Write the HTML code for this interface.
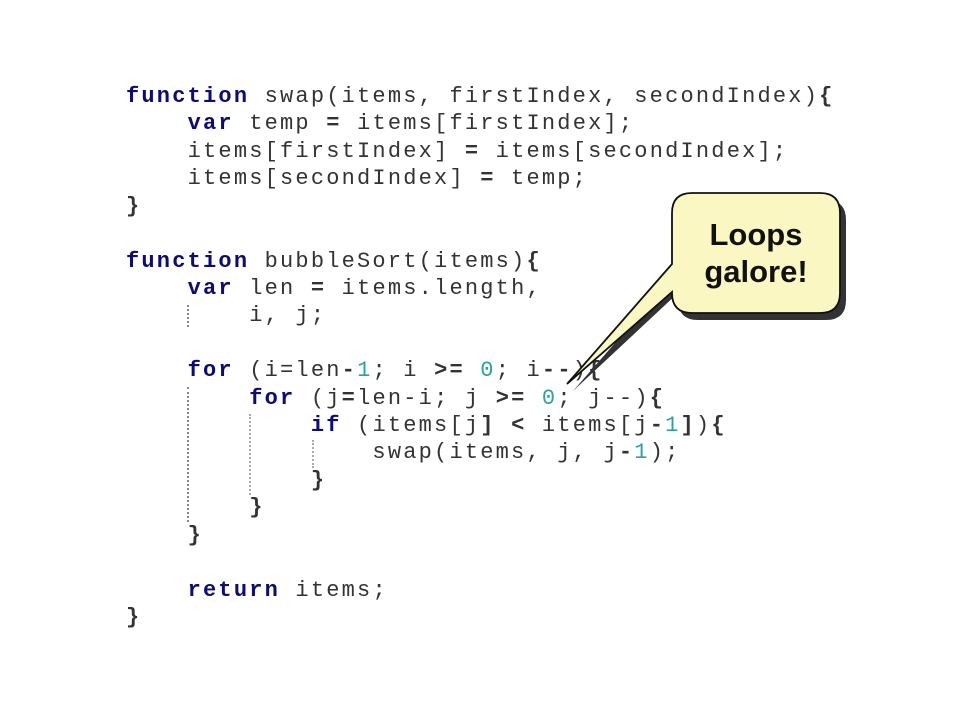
<!DOCTYPE html>
<html><head><meta charset="utf-8"><style>
body{margin:0;width:960px;height:720px;background:#fff;position:relative;overflow:hidden}
.l{position:absolute;left:126px;font-family:"Liberation Mono",monospace;font-size:22px;line-height:27.42px;color:#333;white-space:pre;letter-spacing:2.2px}
.k{color:#0b0b7a;font-weight:bold}
.n{color:#2aa3a3}
.g{position:absolute;width:0;border-left:2px dotted #888}
</style></head><body>
<div class="l" style="top:83px"><span class="k">function</span> swap(items, firstIndex, secondIndex)<b>{</b>
    <span class="k">var</span> temp <b>=</b> items[firstIndex];
    items[firstIndex] <b>=</b> items[secondIndex];
    items[secondIndex] <b>=</b> temp;
<b>}</b>

<span class="k">function</span> bubbleSort(items)<b>{</b>
    <span class="k">var</span> len <b>=</b> items.length,
        i, j;

    <span class="k">for</span> (i=len<b>-</b><span class="n">1</span>; i <b>&gt;=</b> <span class="n">0</span>; i<b>--</b>)<b>{</b>
        <span class="k">for</span> (j<b>=</b>len-i; j <b>&gt;=</b> <span class="n">0</span>; j--)<b>{</b>
            <span class="k">if</span> (items[j<b>]</b> <b>&lt;</b> items[j<b>-</b><span class="n">1</span><b>]</b>)<b>{</b>
                swap(items, j, j<b>-</b><span class="n">1</span>);
            <b>}</b>
        <b>}</b>
    <b>}</b>

    <span class="k">return</span> items;
<b>}</b></div>
<div class="g" style="left:187px;top:305px;height:22px"></div>
<div class="g" style="left:187px;top:387px;height:135px"></div>
<div class="g" style="left:249px;top:414px;height:81px;border-left-color:#aaa"></div>
<div class="g" style="left:312px;top:440px;height:28px;border-left-color:#aaa"></div>
<svg style="position:absolute;left:0;top:0" width="960" height="720">
<path d="M695 197 H823 Q843 197 843 217 V297 Q843 317 823 317 H695 Q675 317 675 297 V290 L570 388 L675 268 V217 Q675 197 695 197 Z" fill="#333" transform="translate(3,3)"/>
<path d="M692 193 H820 Q840 193 840 213 V293 Q840 313 820 313 H692 Q672 313 672 293 V292 L567 384 L672 264 V213 Q672 193 692 193 Z" fill="#fbf7c2" stroke="#111" stroke-width="1.8"/>
<text x="756" y="245" text-anchor="middle" font-family="Liberation Sans,sans-serif" font-weight="bold" font-size="31" fill="#111">Loops</text>
<text x="756" y="282" text-anchor="middle" font-family="Liberation Sans,sans-serif" font-weight="bold" font-size="31" fill="#111">galore!</text>
</svg>
</body></html>
